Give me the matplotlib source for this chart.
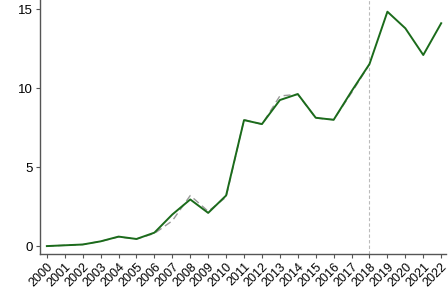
import matplotlib
matplotlib.use("Agg")
import matplotlib.pyplot as plt

plt.rcParams["font.family"] = ["Liberation Sans", "DejaVu Sans"]

years = list(range(2000, 2023))
treated = [0.0, 0.05, 0.1, 0.3, 0.6, 0.45, 0.85, 2.0, 2.95, 2.1, 3.2, 7.97, 7.72, 9.24,
           9.62, 8.12, 7.99, 9.8, 11.52, 14.83, 13.78, 12.09, 14.1]
synth_years = list(range(2000, 2019))
synthetic = [0.0, 0.05, 0.1, 0.3, 0.58, 0.45, 0.8, 1.6, 3.2, 2.2, 3.1, 8.0, 7.7, 9.5,
             9.6, 8.1, 8.0, 9.7, 11.5]
treat_year = 2018

fig = plt.figure(figsize=(4.48, 3.04), dpi=100)
ax = fig.add_axes([0.089, 0.1645, 0.907, 0.8355])

ax.plot(synth_years, synthetic, color="#999999", lw=1.0, ls=(0, (5, 3)), zorder=2)
ax.plot(years, treated, color="#1b6b1b", lw=1.4, zorder=3)
ax.axvline(treat_year, color="#bbbbbb", lw=0.8, ls=(0, (3, 2)), zorder=1)

ax.set_xlim(1999.61, 2022.28)
ax.set_ylim(-0.5, 15.57)
ax.set_yticks([0, 5, 10, 15])
ax.set_xticks(years)
ax.set_xticklabels([str(y) for y in years], rotation=45, ha="right", rotation_mode="anchor")
ax.tick_params(axis="y", labelsize=9.5, color="#555555", length=3, width=0.8, pad=2)
ax.tick_params(axis="x", labelsize=9, color="#555555", length=3, width=0.8, pad=2)
for s in ["top", "right"]:
    ax.spines[s].set_visible(False)
for s in ["left", "bottom"]:
    ax.spines[s].set_color("#555555")
    ax.spines[s].set_linewidth(1.0)

fig.savefig("out.png", dpi=100)
